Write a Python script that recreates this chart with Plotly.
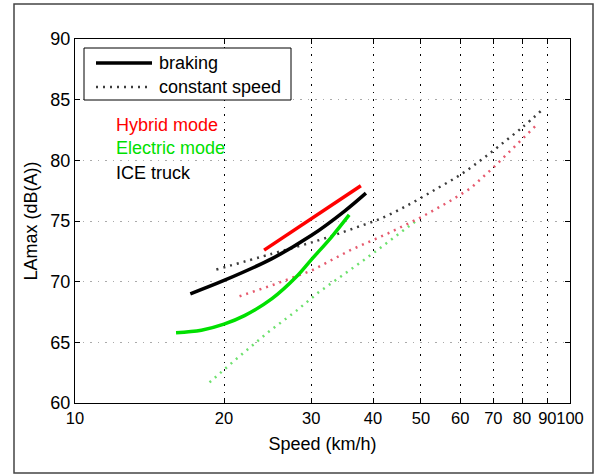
import plotly.graph_objects as go

# ---- data ----
speed_hybrid_brake = [24.1, 30.0, 37.8]
lamax_hybrid_brake = [72.6, 75.2, 77.9]

speed_ice_brake = [17.1, 20, 25, 30, 35, 38.7]
lamax_ice_brake = [69.0, 70.1, 71.9, 73.8, 75.8, 77.3]

speed_elec_brake = [16.0, 18, 20, 22, 25, 28, 30, 33, 35.8]
lamax_elec_brake = [65.8, 66.0, 66.5, 67.2, 68.6, 70.4, 71.8, 73.7, 75.5]

speed_ice_const = [19.3, 25, 31, 36, 42, 48, 54, 60, 66, 72, 80, 88.6]
lamax_ice_const = [71.0, 72.3, 73.4, 74.3, 75.3, 76.5, 77.7, 78.8, 80.0, 81.2, 82.7, 84.3]

speed_hybrid_const = [21.5, 25, 30, 36, 43, 50, 57, 63, 70, 79, 86]
lamax_hybrid_const = [68.8, 69.7, 70.9, 72.6, 74.0, 75.3, 76.6, 77.7, 79.4, 81.5, 83.0]

speed_elec_const = [18.7, 21, 24.5, 28, 31, 35, 38.4, 43, 49.2]
lamax_elec_const = [61.7, 63.5, 65.8, 67.6, 69.1, 70.6, 71.8, 73.3, 75.1]

x_ticks = [10, 20, 30, 40, 50, 60, 70, 80, 90, 100]
y_ticks = [60, 65, 70, 75, 80, 85, 90]

legend_labels = ["braking", "constant speed"]
mode_labels = ["Hybrid mode", "Electric mode", "ICE truck"]
mode_colors = ["#ff0000", "#00e000", "#000000"]

FONT = "Liberation Sans, Arial, Helvetica, sans-serif"

fig = go.Figure()

# constant speed (dotted)
fig.add_trace(go.Scatter(x=speed_elec_const, y=lamax_elec_const, mode="lines",
                         line=dict(color="rgb(110,225,110)", width=2.5, dash="2px,5px"),
                         showlegend=False))
fig.add_trace(go.Scatter(x=speed_hybrid_const, y=lamax_hybrid_const, mode="lines",
                         line=dict(color="rgb(230,90,110)", width=2.5, dash="2px,5px"),
                         showlegend=False))
fig.add_trace(go.Scatter(x=speed_ice_const, y=lamax_ice_const, mode="lines",
                         line=dict(color="rgb(60,60,60)", width=2.5, dash="2px,5px", shape="spline"),
                         showlegend=False))

# braking (solid)
fig.add_trace(go.Scatter(x=speed_elec_brake, y=lamax_elec_brake, mode="lines",
                         line=dict(color="#00e000", width=3.5, shape="spline"),
                         showlegend=False))
fig.add_trace(go.Scatter(x=speed_ice_brake, y=lamax_ice_brake, mode="lines",
                         line=dict(color="#000000", width=3.5, shape="spline"),
                         showlegend=False))
fig.add_trace(go.Scatter(x=speed_hybrid_brake, y=lamax_hybrid_brake, mode="lines",
                         line=dict(color="#ff0000", width=3.5),
                         showlegend=False))

# plot area in pixels: x 75..570, y 39..403
L, R, T, B = 75, 30, 39, 72
W, H = 600 - L - R, 475 - T - B


def px(xp):
    return (xp - L) / W


def py(yp):
    return (475 - B - yp) / H


shapes = []
# outer frame
shapes.append(dict(type="rect", xref="paper", yref="paper",
                   x0=px(14), x1=px(593), y0=py(473), y1=py(4),
                   line=dict(color="#444444", width=1.5), layer="below"))
# legend box
shapes.append(dict(type="rect", xref="paper", yref="paper",
                   x0=px(84), x1=px(291), y0=py(100), y1=py(48),
                   line=dict(color="#000000", width=1), fillcolor="white"))
shapes.append(dict(type="line", xref="paper", yref="paper",
                   x0=px(96), x1=px(152), y0=py(63), y1=py(63),
                   line=dict(color="#000000", width=3.5)))
shapes.append(dict(type="line", xref="paper", yref="paper",
                   x0=px(96), x1=px(152), y0=py(87), y1=py(87),
                   line=dict(color="rgb(60,60,60)", width=2.5, dash="2px,5px")))

annotations = []
for lab, yy in zip(legend_labels, [63, 87]):
    annotations.append(dict(text=lab, xref="paper", yref="paper", x=px(157), y=py(yy),
                            xanchor="left", yanchor="middle", showarrow=False,
                            font=dict(family=FONT, size=18, color="black")))
for lab, col, yy in zip(mode_labels, mode_colors, [125, 148, 173]):
    annotations.append(dict(text=lab, xref="paper", yref="paper", x=px(114), y=py(yy),
                            xanchor="left", yanchor="middle", showarrow=False,
                            font=dict(family=FONT, size=18, color=col)))

fig.update_layout(
    width=600, height=475,
    margin=dict(l=L, r=R, t=T, b=B, autoexpand=False),
    paper_bgcolor="white", plot_bgcolor="white",
    font=dict(family=FONT, size=18, color="black"),
    shapes=shapes, annotations=annotations,
    showlegend=False,
)
fig.update_xaxes(type="log", range=[1, 2], tickvals=x_ticks,
                 ticktext=[str(v) for v in x_ticks], tickangle=0,
                 showline=True, linecolor="black", linewidth=1, mirror="ticks",
                 ticks="inside", ticklen=5, tickcolor="black",
                 showgrid=True, gridcolor="black", gridwidth=1, griddash="1.5px,6px",
                 zeroline=False, tickfont=dict(size=16.5),
                 title=dict(text="Speed (km/h)", font=dict(size=18), standoff=11))
fig.update_yaxes(range=[60, 90], tickvals=y_ticks,
                 showline=True, linecolor="black", linewidth=1, mirror="ticks",
                 ticks="inside", ticklen=5, tickcolor="black",
                 showgrid=True, gridcolor="#aaaaaa", gridwidth=1, griddash="1.5px,6px",
                 zeroline=False, tickfont=dict(size=18),
                 title=dict(text="LAmax (dB(A))", font=dict(size=18), standoff=8))

fig.write_html("out.html")
